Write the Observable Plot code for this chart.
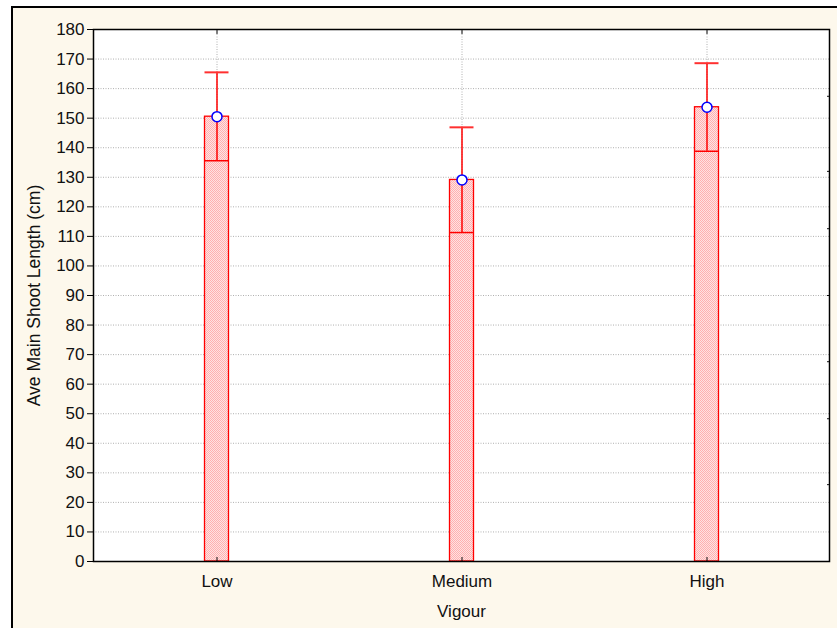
<!DOCTYPE html>
<html>
<head>
<meta charset="utf-8">
<script src="https://cdn.jsdelivr.net/npm/d3@7"></script>
<script src="https://cdn.jsdelivr.net/npm/@observablehq/plot@0.6"></script>
<style>
  html, body { margin: 0; padding: 0; background: #ffffff; }
  #wrap { position: relative; width: 837px; height: 628px; overflow: hidden; }
  #panel { position: absolute; left: 11px; top: 6px; width: 900px; height: 700px;
           background: #fdf8ec; border-left: 2px solid #000; border-top: 2px solid #000; }
  #chart { position: absolute; left: 0; top: 0; }
</style>
</head>
<body>
<div id="wrap"><div id="panel"></div><div id="chart"></div></div>
<script>
const categories = ["Low", "Medium", "High"];
const means = [150.5, 129.1, 153.7];
const lowerBars = [135.6, 111.3, 138.8];
const upperBars = [165.5, 146.9, 168.6];
const yTicks = [0, 10, 20, 30, 40, 50, 60, 70, 80, 90, 100, 110, 120, 130, 140, 150, 160, 170, 180];
const gridTicks = [10, 20, 30, 40, 50, 60, 70, 80, 90, 100, 110, 120, 130, 140, 150, 160, 170];
const rightTicks = [26, 48.3, 67.6, 90, 112.6, 132, 157.4];

const data = categories.map((c, i) => ({cat: c, mean: means[i], lower: lowerBars[i], upper: upperBars[i]}));
const inset = 110.5;

const chart = Plot.plot({
  width: 837,
  height: 628,
  marginTop: 29,
  marginLeft: 93,
  marginRight: 8,
  marginBottom: 67,
  style: {background: "transparent", fontFamily: "'Liberation Sans', Arial, sans-serif", fontSize: "17px", color: "#111"},
  x: {domain: categories, padding: 0, label: null},
  y: {domain: [0, 180], label: null},
  marks: [
    Plot.frame({fill: "white", stroke: null}),
    Plot.gridY(gridTicks, {stroke: "#b0b0b0", strokeOpacity: 1, strokeDasharray: "1,1.5"}),
    Plot.gridX(categories, {stroke: "#b0b0b0", strokeOpacity: 1, strokeDasharray: "1,1.5"}),
    Plot.barY(data, {x: "cat", y: "mean", fill: "url(#hatch)", stroke: "#ff0000", strokeWidth: 1.3, insetLeft: inset, insetRight: inset}),
    Plot.ruleX(data, {x: "cat", y1: "lower", y2: "upper", stroke: "#ff0000", strokeWidth: 1.5}),
    Plot.tickY(data, {x: "cat", y: "upper", stroke: "#ff3030", strokeWidth: 2, insetLeft: inset, insetRight: inset}),
    Plot.tickY(data, {x: "cat", y: "lower", stroke: "#ff0000", strokeWidth: 1.5, insetLeft: inset, insetRight: inset}),
    Plot.dot(data, {x: "cat", y: "mean", r: 5, fill: "white", stroke: "#0000ff", strokeWidth: 1.5}),
    Plot.axisY({ticks: yTicks, tickSize: 6, tickPadding: 3, label: null, stroke: "#000", fontSize: 17}),
    Plot.axisX({tickSize: 0, tickPadding: 13, label: null, fontSize: 17}),
    Plot.axisX({anchor: "top", tickSize: -4, tickFormat: () => "", label: null}),
    Plot.axisX({anchor: "bottom", tickSize: -4, tickFormat: () => "", label: null}),
    Plot.axisY({anchor: "right", ticks: rightTicks, tickSize: -3, tickFormat: () => "", label: null}),
    Plot.frame({stroke: "#000", strokeWidth: 1.5}),
    Plot.text(["Vigour"], {text: d => d, frameAnchor: "bottom", dy: 55, lineAnchor: "bottom", textAnchor: "middle", fill: "#111", fontSize: 17}),
    Plot.text(["Ave Main Shoot Length (cm)"], {text: d => d, frameAnchor: "left", dx: -59, rotate: -90, lineAnchor: "middle", textAnchor: "middle", fill: "#111", fontSize: 17.5})
  ]
});

const svg = d3.select(chart);
const defs = svg.insert("defs", ":first-child");
const pat = defs.append("pattern").attr("id", "hatch").attr("width", 2).attr("height", 2).attr("patternUnits", "userSpaceOnUse");
pat.append("rect").attr("width", 2).attr("height", 2).attr("fill", "#ffe2e2");
pat.append("rect").attr("width", 1).attr("height", 1).attr("fill", "#ffb0b0");
pat.append("rect").attr("x", 1).attr("y", 1).attr("width", 1).attr("height", 1).attr("fill", "#ffb0b0");

document.getElementById("chart").appendChild(chart);
</script>
</body>
</html>
